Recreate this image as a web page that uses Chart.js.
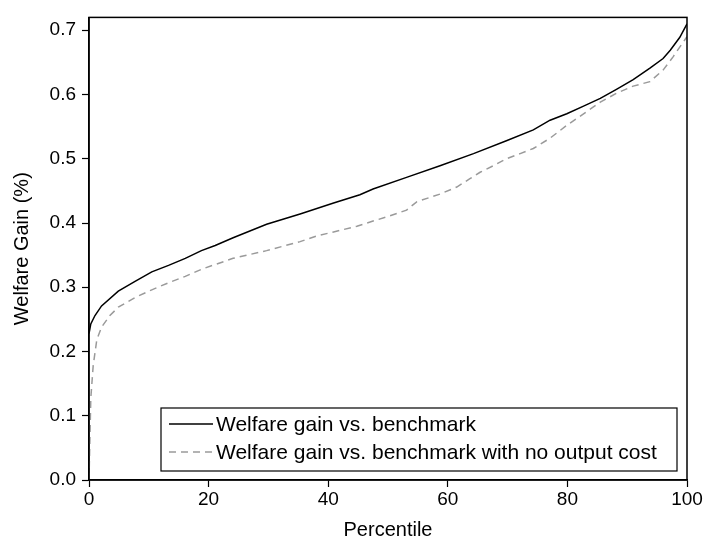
<!DOCTYPE html>
<html>
<head>
<meta charset="utf-8">
<script src="https://cdn.jsdelivr.net/npm/chart.js@4"></script>
<style>
  html,body{margin:0;padding:0;background:#fff;}
  #wrap{width:705px;height:542px;}
</style>
</head>
<body>
<div id="wrap"><canvas id="chart"></canvas></div>
<script>
// solid: welfare gain vs. benchmark
const benchPct = [0,0.3,1.0,2.1,4.9,7.7,10.5,13.3,16.1,18.8,21.1,24.1,29.7,35.3,40.9,45.3,47.5,53.1,58.7,64.3,69.8,74.3,77.1,79.9,82.7,85.5,88.2,91.0,93.8,96.0,97.2,98.8,100];
const benchGain = [0.228,0.243,0.256,0.271,0.294,0.309,0.324,0.334,0.345,0.357,0.365,0.377,0.398,0.414,0.431,0.444,0.453,0.471,0.489,0.508,0.528,0.545,0.560,0.570,0.582,0.594,0.608,0.623,0.641,0.656,0.669,0.689,0.710];
// dashed: vs. benchmark with no output cost
const noCostPct = [0,0.3,0.7,1.3,2.1,3.5,4.9,7.7,10.5,13.3,16.1,19.1,24.1,29.7,35.3,38.1,40.9,44.8,47.5,50.3,53.1,54.8,58.7,61.5,63.7,65.4,67.6,69.8,72.1,74.3,77.1,79.9,82.7,85.5,88.2,91.0,93.8,96.0,97.7,99.7,100];
const noCostGain = [0,0.127,0.178,0.218,0.238,0.256,0.269,0.284,0.296,0.307,0.317,0.329,0.345,0.357,0.371,0.380,0.386,0.395,0.403,0.411,0.420,0.433,0.445,0.456,0.469,0.479,0.489,0.500,0.508,0.516,0.532,0.552,0.570,0.588,0.602,0.613,0.620,0.638,0.659,0.686,0.690];
const seriesLabels = ['Welfare gain vs. benchmark','Welfare gain vs. benchmark with no output cost'];
const xTitle = 'Percentile';
const yTitle = 'Welfare Gain (%)';

const FONT = 'Liberation Sans, Arial, Helvetica, sans-serif';

// box round the plot + legend inside it
const framePlugin = {
  id:'frame',
  afterDraw(chart){
    const {ctx, chartArea:a} = chart;
    ctx.save();
    ctx.strokeStyle='#000'; ctx.lineWidth=1.5;
    ctx.strokeRect(a.left, a.top, a.right-a.left, a.bottom-a.top);
    // legend
    const bx=161, by=408, bw=516, bh=63;
    ctx.fillStyle='#fff'; ctx.fillRect(bx,by,bw,bh);
    ctx.lineWidth=1.2; ctx.strokeRect(bx,by,bw,bh);
    ctx.font='21px '+FONT; ctx.textBaseline='middle'; ctx.textAlign='left';
    chart.data.datasets.forEach((ds,i)=>{
      const y = by+16+i*28;
      ctx.beginPath();
      ctx.strokeStyle=ds.borderColor; ctx.lineWidth=1.5;
      ctx.setLineDash(ds.borderDash||[]);
      ctx.moveTo(169,y); ctx.lineTo(213,y); ctx.stroke();
      ctx.setLineDash([]);
      ctx.fillStyle='#000';
      ctx.fillText(ds.label,216,y+1);
    });
    ctx.restore();
  }
};

new Chart(document.getElementById('chart'),{
  type:'line',
  data:{
    datasets:[
      {label:seriesLabels[0],data:benchPct.map((x,i)=>({x,y:benchGain[i]})),borderColor:'#000',borderWidth:1.5,pointRadius:0,tension:0,fill:false},
      {label:seriesLabels[1],data:noCostPct.map((x,i)=>({x,y:noCostGain[i]})),borderColor:'#9a9a9a',borderWidth:1.5,borderDash:[7,5],pointRadius:0,tension:0,fill:false}
    ]
  },
  options:{
    responsive:true, maintainAspectRatio:false, animation:false,
    layout:{padding:{top:6,right:18,left:0,bottom:0}},
    plugins:{legend:{display:false},tooltip:{enabled:false}},
    scales:{
      x:{type:'linear',min:0,max:100,
        ticks:{stepSize:20,color:'#000',font:{family:FONT,size:19},padding:1,maxRotation:0},
        grid:{drawOnChartArea:false,drawTicks:true,tickLength:7,tickColor:'#000',tickWidth:1.2},
        border:{display:true,color:'#000',width:1.5},
        title:{display:true,text:xTitle,color:'#000',font:{family:FONT,size:20},padding:{top:0,bottom:0}},
        afterFit:s=>{s.height=62;}
      },
      y:{type:'linear',min:0,max:0.72,
        ticks:{stepSize:0.1,includeBounds:false,color:'#000',font:{family:FONT,size:19},padding:6,callback:v=>v.toFixed(1)},
        grid:{drawOnChartArea:false,drawTicks:true,tickLength:7,tickColor:'#000',tickWidth:1.2},
        border:{display:true,color:'#000',width:1.5},
        title:{display:true,text:yTitle,color:'#000',font:{family:FONT,size:20},padding:{top:10,bottom:0}},
        afterFit:s=>{s.width=89;}
      }
    }
  },
  plugins:[framePlugin]
});
</script>
</body>
</html>
